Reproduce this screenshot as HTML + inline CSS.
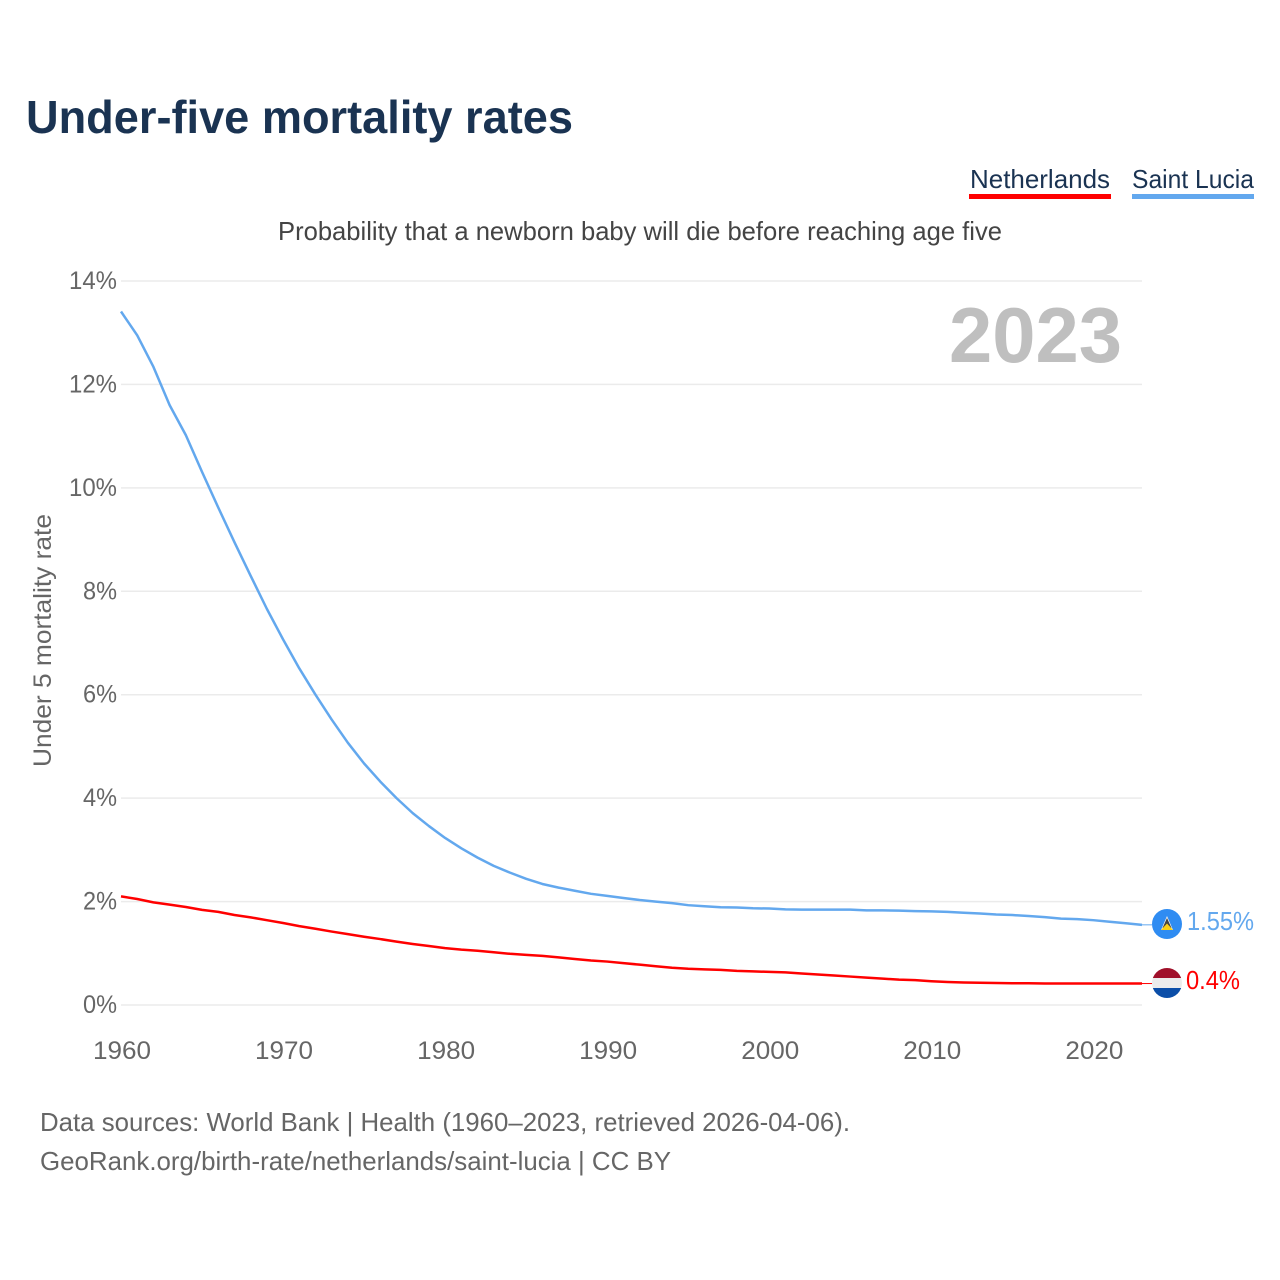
<!DOCTYPE html>
<html lang="en">
<head>
<meta charset="utf-8">
<title>Under-five mortality rates</title>
<style>
html,body{margin:0;padding:0;background:#fff;}
svg{display:block;font-family:"Liberation Sans",sans-serif;}
</style>
</head>
<body>
<svg id="chart" xmlns="http://www.w3.org/2000/svg" width="1280" height="1280" viewBox="0 0 1280 1280">
  <rect x="0" y="0" width="1280" height="1280" fill="#ffffff"/>
  <text x="26" y="133" font-size="46" font-weight="700" fill="#1a3352" textLength="547" lengthAdjust="spacingAndGlyphs">Under-five mortality rates</text>
  <g>
    <text x="970" y="188" font-size="26" fill="#1a3352" textLength="140" lengthAdjust="spacingAndGlyphs">Netherlands</text>
    <rect x="969" y="194" width="142" height="5" fill="#ff0000"/>
  </g>
  <g>
    <text x="1132" y="188" font-size="26" fill="#1a3352" textLength="122" lengthAdjust="spacingAndGlyphs">Saint Lucia</text>
    <rect x="1132" y="194" width="122" height="5" fill="#63a8ee"/>
  </g>
  <text x="278" y="240" font-size="26" fill="#444444" textLength="724" lengthAdjust="spacingAndGlyphs">Probability that a newborn baby will die before reaching age five</text>
  <text transform="translate(51,767) rotate(-90)" x="0" y="0" font-size="25" fill="#666666" textLength="253" lengthAdjust="spacingAndGlyphs">Under 5 mortality rate</text>
  <g id="grid"></g>
  <g id="yticks"></g>
  <g id="xticks"></g>
  <text x="949" y="362" font-size="78" font-weight="700" fill="#bfbfbf" textLength="173" lengthAdjust="spacingAndGlyphs">2023</text>
  <g id="series"></g>
  <defs>
    <clipPath id="clip-nl"><circle cx="1167" cy="983" r="15"/></clipPath>
  </defs>
  <g>
    <circle cx="1167" cy="924" r="15" fill="#2f8cf2"/>
    <polygon points="1167,916 1173,930 1161,930" fill="#f4f4f4"/>
    <polygon points="1167,918 1171.5,928 1162.5,928" fill="#444444"/>
    <polygon points="1167,923.5 1173,930 1161,930" fill="#fcd116"/>
  </g>
  <text x="1187" y="930" font-size="26" fill="#63a8ee" textLength="67" lengthAdjust="spacingAndGlyphs">1.55%</text>
  <g clip-path="url(#clip-nl)">
    <rect x="1152" y="968" width="30" height="10" fill="#a0102a"/>
    <rect x="1152" y="978" width="30" height="10" fill="#ececec"/>
    <rect x="1152" y="988" width="30" height="10" fill="#0b4ea8"/>
  </g>
  <text x="1186" y="989" font-size="26" fill="#ff0000" textLength="54" lengthAdjust="spacingAndGlyphs">0.4%</text>
  <text x="40" y="1131" font-size="26" fill="#666666" textLength="810" lengthAdjust="spacingAndGlyphs">Data sources: World Bank | Health (1960–2023, retrieved 2026-04-06).</text>
  <text x="40" y="1170" font-size="26" fill="#666666" textLength="631" lengthAdjust="spacingAndGlyphs">GeoRank.org/birth-rate/netherlands/saint-lucia | CC BY</text>
</svg>
<script>
const years = [1960,1961,1962,1963,1964,1965,1966,1967,1968,1969,1970,1971,1972,1973,1974,1975,1976,1977,1978,1979,1980,1981,1982,1983,1984,1985,1986,1987,1988,1989,1990,1991,1992,1993,1994,1995,1996,1997,1998,1999,2000,2001,2002,2003,2004,2005,2006,2007,2008,2009,2010,2011,2012,2013,2014,2015,2016,2017,2018,2019,2020,2021,2022,2023];
const saintLucia = [13.41,12.95,12.34,11.6,11.02,10.31,9.62,8.95,8.3,7.66,7.07,6.51,6.0,5.52,5.07,4.67,4.32,4.0,3.71,3.46,3.23,3.03,2.85,2.69,2.56,2.44,2.34,2.27,2.21,2.15,2.11,2.07,2.03,2.0,1.97,1.93,1.91,1.89,1.885,1.87,1.865,1.85,1.845,1.845,1.845,1.845,1.83,1.83,1.825,1.815,1.81,1.8,1.785,1.77,1.75,1.74,1.72,1.7,1.67,1.66,1.64,1.61,1.58,1.55];
const netherlands = [2.1,2.05,1.985,1.94,1.895,1.84,1.8,1.74,1.695,1.64,1.585,1.525,1.475,1.42,1.37,1.32,1.275,1.225,1.18,1.14,1.1,1.07,1.05,1.02,0.99,0.97,0.95,0.92,0.89,0.86,0.84,0.81,0.78,0.75,0.72,0.7,0.69,0.68,0.66,0.65,0.64,0.63,0.61,0.59,0.57,0.55,0.53,0.51,0.49,0.48,0.46,0.445,0.435,0.43,0.425,0.42,0.42,0.415,0.415,0.415,0.415,0.415,0.415,0.415];
const yTickValues = [0,2,4,6,8,10,12,14];
const yTickLabels = ["0%","2%","4%","6%","8%","10%","12%","14%"];
const xTickValues = [1960,1970,1980,1990,2000,2010,2020];
const xTickLabels = ["1960","1970","1980","1990","2000","2010","2020"];

const NS = "http://www.w3.org/2000/svg";
const plotLeft = 121, plotRight = 1142, plotBottom = 1005, plotTop = 281;
const xScale = function (year) {
  return plotLeft + (year - years[0]) / (years[years.length - 1] - years[0]) * (plotRight - plotLeft);
};
const yScale = function (value) {
  return plotBottom - value / 14 * (plotBottom - plotTop);
};

const grid = document.getElementById("grid");
const yticks = document.getElementById("yticks");
const xticks = document.getElementById("xticks");
const series = document.getElementById("series");

yTickValues.forEach(function (v, i) {
  const line = document.createElementNS(NS, "line");
  line.setAttribute("x1", plotLeft);
  line.setAttribute("x2", plotRight);
  line.setAttribute("y1", yScale(v));
  line.setAttribute("y2", yScale(v));
  line.setAttribute("stroke", "#ebebeb");
  line.setAttribute("stroke-width", "1.5");
  
  
  grid.appendChild(line);

  const label = document.createElementNS(NS, "text");
  label.setAttribute("x", 117);
  label.setAttribute("y", yScale(v) + 8);
  label.setAttribute("text-anchor", "end");
  label.setAttribute("font-size", "25");
  label.setAttribute("fill", "#666666");
  label.setAttribute("textLength", yTickLabels[i].length > 2 ? 48 : 34);
  label.setAttribute("lengthAdjust", "spacingAndGlyphs");
  label.textContent = yTickLabels[i];
  
  
  yticks.appendChild(label);
});

xTickValues.forEach(function (v, i) {
  const label = document.createElementNS(NS, "text");
  label.setAttribute("x", xScale(v) + 1);
  label.setAttribute("y", 1059);
  label.setAttribute("text-anchor", "middle");
  label.setAttribute("font-size", "25");
  label.setAttribute("fill", "#666666");
  label.setAttribute("textLength", 58);
  label.setAttribute("lengthAdjust", "spacingAndGlyphs");
  label.textContent = xTickLabels[i];
  
  
  xticks.appendChild(label);
});

function pathFor(values) {
  return values.map(function (v, i) {
    return (i ? "L" : "M") + xScale(years[i]).toFixed(2) + " " + yScale(v).toFixed(2);
  }).join(" ");
}

const lineLucia = document.createElementNS(NS, "path");
lineLucia.setAttribute("d", pathFor(saintLucia));
lineLucia.setAttribute("fill", "none");
lineLucia.setAttribute("stroke", "#63a8ee");
lineLucia.setAttribute("stroke-width", "2.5");
lineLucia.setAttribute("stroke-linejoin", "round");


series.appendChild(lineLucia);

const lineNl = document.createElementNS(NS, "path");
lineNl.setAttribute("d", pathFor(netherlands));
lineNl.setAttribute("fill", "none");
lineNl.setAttribute("stroke", "#ff0000");
lineNl.setAttribute("stroke-width", "2.5");
lineNl.setAttribute("stroke-linejoin", "round");


series.appendChild(lineNl);

const leaderLucia = document.createElementNS(NS, "line");
leaderLucia.setAttribute("x1", xScale(years[years.length - 1]));
leaderLucia.setAttribute("x2", 1152);
leaderLucia.setAttribute("y1", yScale(saintLucia[saintLucia.length - 1]));
leaderLucia.setAttribute("y2", yScale(saintLucia[saintLucia.length - 1]));
leaderLucia.setAttribute("stroke", "#63a8ee");
leaderLucia.setAttribute("stroke-width", "1");


series.appendChild(leaderLucia);

const leaderNl = document.createElementNS(NS, "line");
leaderNl.setAttribute("x1", xScale(years[years.length - 1]));
leaderNl.setAttribute("x2", 1152);
leaderNl.setAttribute("y1", yScale(netherlands[netherlands.length - 1]));
leaderNl.setAttribute("y2", yScale(netherlands[netherlands.length - 1]));
leaderNl.setAttribute("stroke", "#ff0000");
leaderNl.setAttribute("stroke-width", "1");


series.appendChild(leaderNl);
</script>
</body>
</html>
